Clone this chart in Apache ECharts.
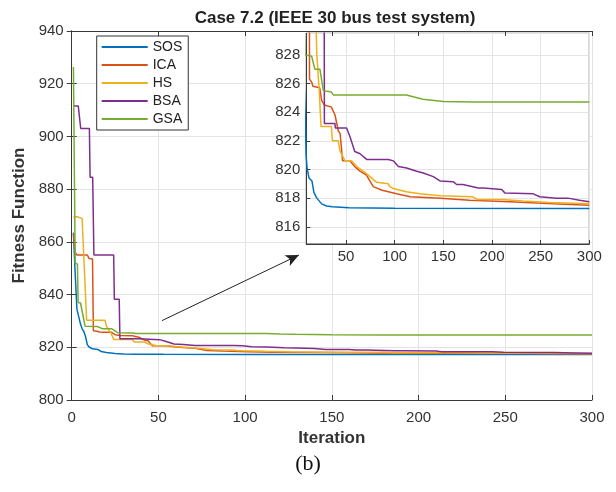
<!DOCTYPE html>
<html>
<head>
<meta charset="utf-8">
<script src="https://cdn.jsdelivr.net/npm/echarts@6/dist/echarts.min.js"></script>
<style>
  html, body { margin: 0; padding: 0; background: #fff; }
  #chart { width: 616px; height: 492px; }
</style>
</head>
<body>
<div id="chart"></div>
<script>
// convergence curves: [iteration, fitness]
const sosData = [[1,863.5],[2,848],[3,834.5],[4,834],[5,829],[6,827],[7,826],[8,824],[9,821],[10,820.1],[12,819.4],[15,819.2],[17,818.4],[20,818],[25,817.6],[30,817.45],[36,817.4],[53,817.33],[100,817.3],[300,817.28]];
const icaData = [[1,863],[2,856],[3,855],[9,855],[10,853.7],[12,853.5],[12.5,826.3],[14.7,826.1],[16,825.8],[18,825.7],[23,825.7],[25,824.8],[28,824.5],[35,824.35],[38.7,823.8],[42,822.7],[44,822.5],[46.5,820.6],[54,820.6],[59,820.2],[64,819.9],[71,819.6],[78,818.8],[87,818.55],[102,818.3],[116,818.1],[147,818],[177,817.85],[218,817.75],[263,817.6],[300,817.5]];
const hsData = [[1,869.5],[3,869.5],[4,868.9],[6,868.9],[8.6,830.3],[19.2,830.3],[20,828],[22.5,825.5],[24.3,823],[35,823],[36,822],[42,822],[43.8,821.3],[49,820.6],[56,820.6],[61,820.2],[69.5,819.8],[74.6,819.5],[81.5,819.1],[93.5,819],[95,818.8],[98.6,818.67],[112,818.45],[126,818.3],[147,818.16],[180,818.1],[185,817.9],[210,817.9],[232,817.8],[259,817.7],[300,817.6]];
const bsaData = [[1,911.5],[3.8,911.5],[5.2,903],[10.2,903],[10.6,884.5],[12.1,884.5],[12.8,855],[24.2,855],[24.6,838.2],[27.4,838.2],[27.8,823.2],[38.7,823.2],[39,822.9],[50.6,822.9],[54,822.3],[59,821.25],[64.4,821.1],[71.2,820.7],[93.5,820.7],[98.6,820.6],[103.8,820.2],[112.3,820.1],[122.6,819.87],[129.4,819.75],[139.7,819.5],[146.6,819.2],[160,819.15],[163.7,818.95],[170,818.95],[186,818.7],[191,818.7],[210,818.6],[213.4,818.35],[242.5,818.3],[249,818.1],[266,818],[278,818],[290,817.85],[300,817.75]];
const gsaData = [[1,926.3],[2,852],[3.3,851.5],[3.7,837],[5.1,836.8],[7.7,828],[14.7,827.9],[18,827],[23.2,827],[26.7,825.5],[35,825.4],[37,825.2],[112,825.2],[120,825.05],[129,824.9],[150,824.75],[180,824.7],[300,824.7]];

const names = ['SOS', 'ICA', 'HS', 'BSA', 'GSA'];
const curves = [sosData, icaData, hsData, bsaData, gsaData];
const colors = ['#0072BD', '#D95319', '#EDB120', '#7E2F8E', '#77AC30'];

// arrow from the curves to the zoomed box, in main-axis units
const arrowFrom = [52, 830.1];
const arrowTo = [131, 855];

const axisColor = '#3a3a3a';
const gridColor = '#e4e4e4';
const font = "'Liberation Sans', Arial, sans-serif";

const chart = echarts.init(document.getElementById('chart'));

const series = [];
curves.forEach((d, i) => {
  series.push({
    name: names[i], type: 'line', data: d, xAxisIndex: 0, yAxisIndex: 0,
    showSymbol: false, z: 3, lineStyle: { width: 1.5, color: colors[i] },
    itemStyle: { color: colors[i] },
    markLine: i === 0 ? {
      silent: true, symbol: ['none', 'arrow'], symbolSize: [9, 13],
      label: { show: false },
      lineStyle: { color: '#222', width: 1, type: 'solid' },
      data: [[{ coord: arrowFrom }, { coord: arrowTo }]]
    } : undefined
  });
  series.push({
    name: names[i], type: 'line', data: d, xAxisIndex: 2, yAxisIndex: 2,
    showSymbol: false, z: 3, clip: true, lineStyle: { width: 1.5, color: colors[i] },
    itemStyle: { color: colors[i] }
  });
});

const tickLabel = { color: '#333', fontSize: 15, fontFamily: font };

const option = {
  animation: false,
  title: {
    text: 'Case 7.2 (IEEE 30 bus test system)',
    left: 330, top: 5, textAlign: 'center',
    textStyle: { fontSize: 17, fontWeight: 'bold', color: '#222', fontFamily: font }
  },
  legend: {
    orient: 'vertical', left: 96.7, top: 36, z: 5,
    data: names, icon: 'rect', itemWidth: 46, itemHeight: 2, itemGap: 4,
    padding: [4, 6, 4, 5], backgroundColor: '#fff', borderColor: '#333', borderWidth: 1,
    textStyle: { fontSize: 14, lineHeight: 14, color: '#222', fontFamily: font }
  },
  grid: [
    { left: 71.7, top: 31, right: 24, bottom: 92 },
    { left: 306.3, top: 33.3, width: 283, height: 210.7 }
  ],
  xAxis: [
    {
      type: 'value', gridIndex: 0, min: 0, max: 300, interval: 50,
      name: 'Iteration', nameLocation: 'middle', nameGap: 28,
      nameTextStyle: { fontSize: 17, fontWeight: 'bold', color: '#333', fontFamily: font },
      axisLine: { lineStyle: { color: axisColor } },
      axisTick: { inside: true, length: 5, lineStyle: { color: axisColor } },
      axisLabel: Object.assign({ margin: 10 }, tickLabel),
      splitLine: { lineStyle: { color: gridColor } }
    },
    {
      type: 'value', gridIndex: 0, position: 'top', min: 0, max: 300, interval: 50, z: 4,
      axisLine: { lineStyle: { color: axisColor } },
      axisTick: { inside: true, length: 5, lineStyle: { color: axisColor } },
      axisLabel: { show: false }, splitLine: { show: false }
    },
    {
      type: 'value', gridIndex: 1, min: 9.2, max: 300, splitNumber: 6, z: 2,
      axisLine: { lineStyle: { color: axisColor } },
      axisTick: { inside: true, length: 4, lineStyle: { color: axisColor } },
      axisLabel: Object.assign({ margin: 5, showMinLabel: false,
        formatter: v => (v % 50 === 0 ? String(v) : '') }, tickLabel),
      splitLine: { lineStyle: { color: gridColor } }
    }
  ],
  yAxis: [
    {
      type: 'value', gridIndex: 0, min: 800, max: 940, interval: 20,
      name: 'Fitness Function', nameLocation: 'middle', nameGap: 37,
      nameTextStyle: { fontSize: 17, fontWeight: 'bold', color: '#333', fontFamily: font },
      axisLine: { lineStyle: { color: axisColor } },
      axisTick: { inside: true, length: 5, lineStyle: { color: axisColor } },
      axisLabel: Object.assign({ margin: 8 }, tickLabel),
      splitLine: { lineStyle: { color: gridColor } }
    },
    {
      type: 'value', gridIndex: 0, position: 'right', min: 800, max: 940, interval: 20, z: 4,
      axisLine: { lineStyle: { color: axisColor } },
      axisTick: { inside: true, length: 5, lineStyle: { color: axisColor } },
      axisLabel: { show: false }, splitLine: { show: false }
    },
    {
      type: 'value', gridIndex: 1, min: 814.8, max: 829.5, splitNumber: 7, z: 2,
      axisLine: { lineStyle: { color: axisColor } },
      axisTick: { inside: true, length: 4, lineStyle: { color: axisColor } },
      axisLabel: Object.assign({ margin: 6, showMinLabel: false, showMaxLabel: false,
        formatter: v => (v % 2 === 0 ? String(v) : '') }, tickLabel),
      splitLine: { lineStyle: { color: gridColor } }
    }
  ],
  graphic: [
    {
      type: 'rect', z: 1, silent: true,
      shape: { x: 306.3, y: 33.3, width: 283, height: 210.7 },
      style: { fill: '#fff', stroke: axisColor, lineWidth: 1 }
    },
    {
      type: 'text', left: 'center', top: 453, silent: true,
      style: { text: '(b)', fontSize: 22, fontFamily: "'Liberation Serif', 'Times New Roman', serif", fill: '#111' }
    }
  ],
  series: series
};

chart.setOption(option);
</script>
</body>
</html>
